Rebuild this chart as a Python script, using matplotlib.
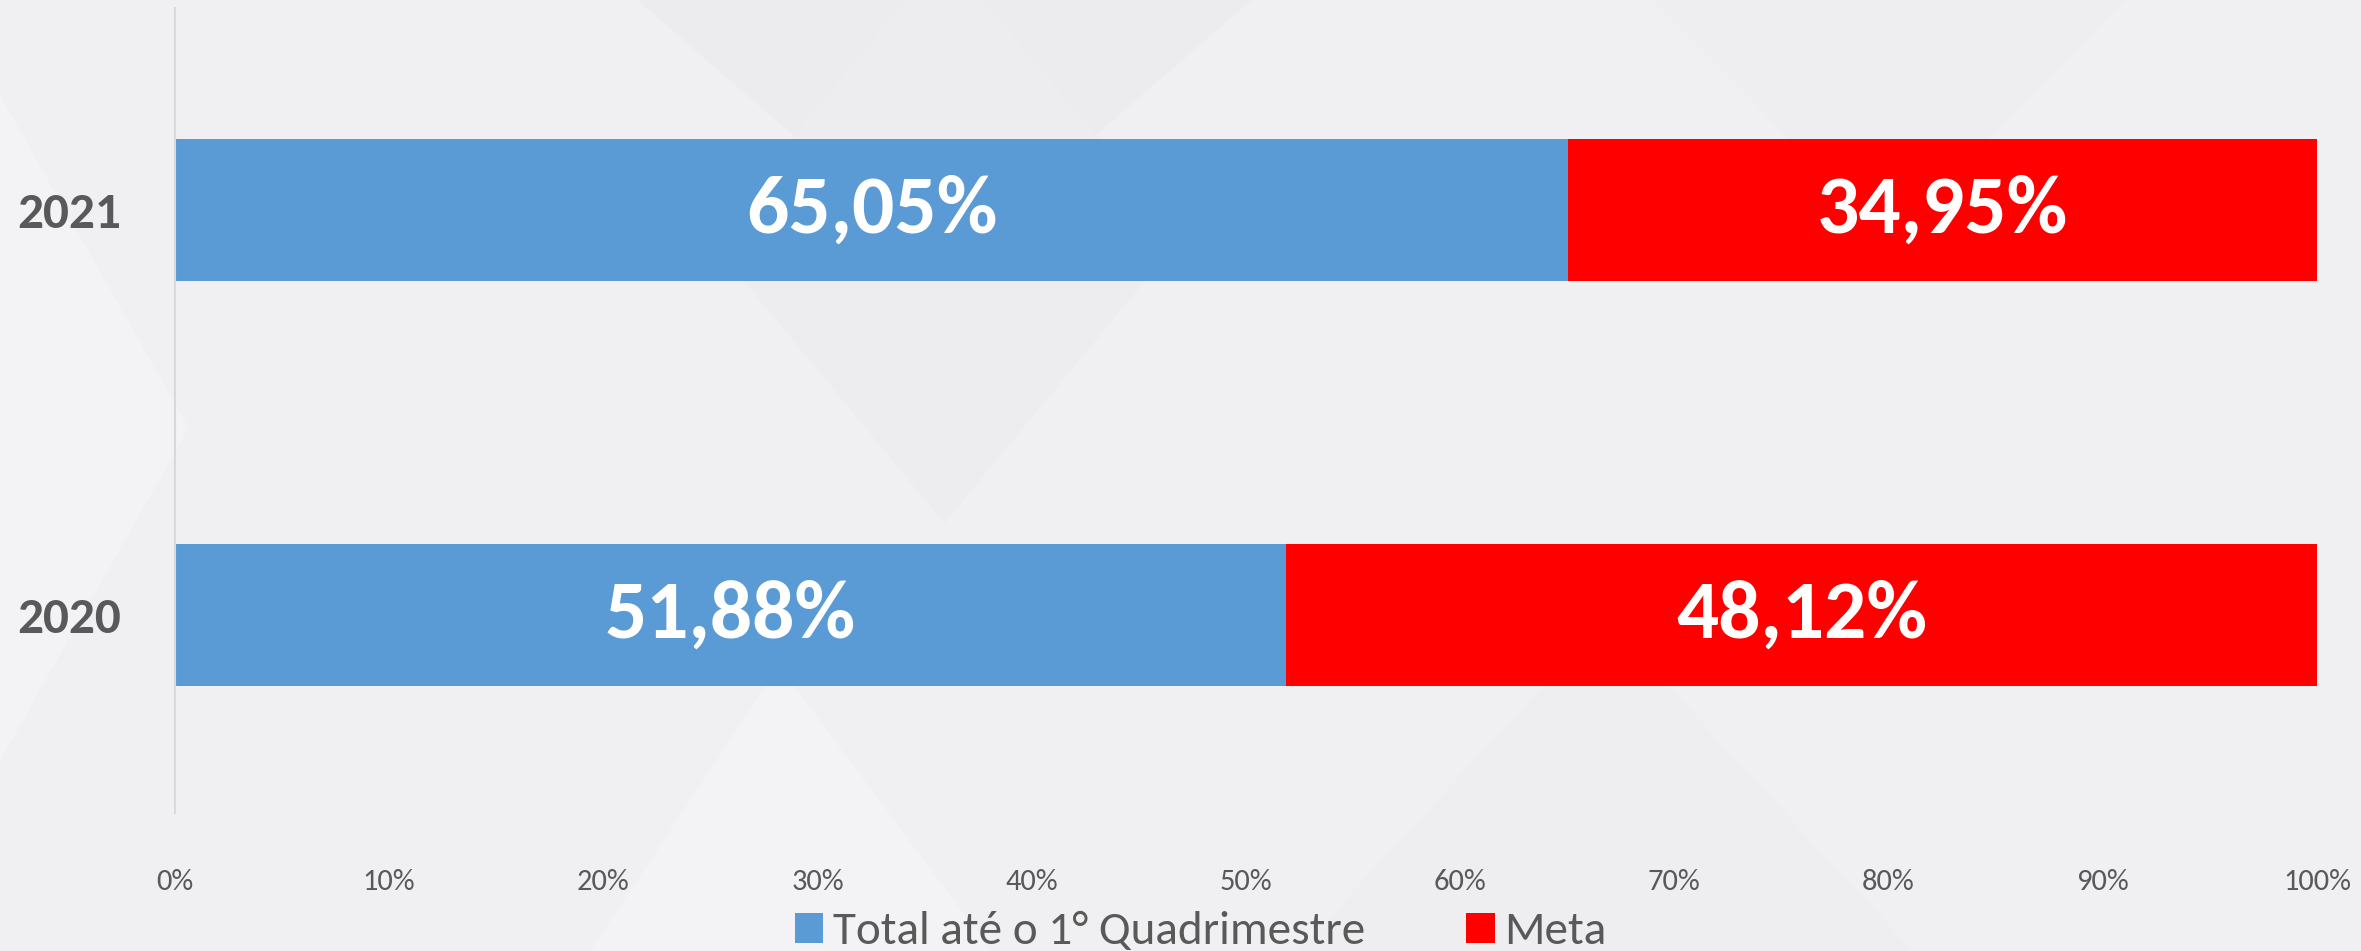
import numpy as np
import matplotlib.pyplot as plt
from matplotlib.patches import Polygon

years = ['2020', '2021']
total = [51.88, 65.05]
meta = [48.12, 34.95]
series_names = ['Total até o 1° Quadrimestre', 'Meta']
ticks = list(range(0, 101, 10))
tick_labels = [f'{t}%' for t in ticks]

plt.rcParams['font.family'] = ['Carlito', 'Lato', 'DejaVu Sans']

BLUE = '#5B9BD5'
RED = '#FF0000'
GREY = '#595959'

fig = plt.figure(figsize=(23.61, 9.51), dpi=100)
fig.patch.set_facecolor('#f0f0f2')

# faint slide background shapes (diamonds)
bg = fig.add_axes([0, 0, 1, 1], zorder=-1)
bg.set_xlim(0, 1)
bg.set_ylim(0, 1)
bg.axis('off')
shapes = [
    ([(0.27, 1), (0.4, 0.72), (0.53, 1)], '#ececef'),
    ([(0.3, 0.75), (0.4, 0.45), (0.5, 0.75), (0.4, 1.05)], '#ededf0'),
    ([(0.0, 0.9), (0.08, 0.55), (0.0, 0.2)], '#f3f3f5'),
    ([(0.55, 0.0), (0.68, 0.35), (0.81, 0.0)], '#eeeef1'),
    ([(0.7, 1), (0.8, 0.75), (0.9, 1)], '#eeeef1'),
    ([(0.25, 0.0), (0.33, 0.3), (0.42, 0.0)], '#f3f3f5'),
]
for pts, c in shapes:
    bg.add_patch(Polygon(pts, closed=True, color=c, lw=0))

ax = fig.add_axes([175 / 2361, 1 - 813 / 951, (2317 - 175) / 2361, (813 - 8) / 951])
ax.set_facecolor('none')

y = np.arange(len(years))
h = 0.35
b1 = ax.barh(y, total, height=h, color=BLUE, label=series_names[0])
b2 = ax.barh(y, meta, left=total, height=h, color=RED, label=series_names[1])

for i in range(len(years)):
    ax.text(total[i] / 2, y[i], f'{total[i]:.2f}%'.replace('.', ','),
            ha='center', va='center', color='white', fontsize=60, fontweight='bold')
    ax.text(total[i] + meta[i] / 2, y[i], f'{meta[i]:.2f}%'.replace('.', ','),
            ha='center', va='center', color='white', fontsize=60, fontweight='bold')

ax.set_xlim(0, 100)
ax.set_ylim(-0.49, 1.5)
ax.set_xticks(ticks)
ax.set_xticklabels(tick_labels, fontsize=22, color=GREY)
ax.set_yticks(y)
ax.set_yticklabels(years, fontsize=37, fontweight='bold', color=GREY)
ax.tick_params(axis='both', length=0)
ax.tick_params(axis='x', pad=40)
ax.tick_params(axis='y', pad=39)
for s in ['top', 'right', 'bottom']:
    ax.spines[s].set_visible(False)
ax.spines['left'].set_color('#d9d9d9')
ax.spines['left'].set_linewidth(1.5)

fig.legend(handles=[b1, b2], loc='center', bbox_to_anchor=(0.5085, 1 - 932 / 951),
           ncol=2, frameon=False, fontsize=34, labelcolor=GREY,
           handlelength=0.6, handleheight=0.6, handletextpad=0.2, columnspacing=2.15)

fig.savefig('out.png', dpi=100, facecolor=fig.get_facecolor())
